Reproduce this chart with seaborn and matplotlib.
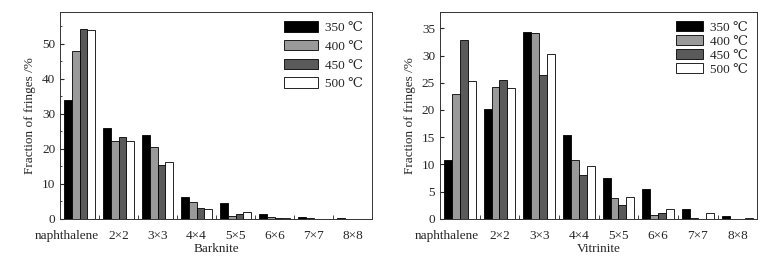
import seaborn as sns
import matplotlib.pyplot as plt
import matplotlib.transforms as mtransforms
import numpy as np
import pandas as pd
from matplotlib.ticker import MultipleLocator, FixedLocator

sns.set_style("ticks")
plt.rcParams['font.family'] = ['Liberation Serif', 'DejaVu Serif', 'Noto Sans CJK SC']
plt.rcParams['xtick.direction'] = 'in'
plt.rcParams['ytick.direction'] = 'in'

# 数据
sizes = ['naphthalene', '2×2', '3×3', '4×4', '5×5', '6×6', '7×7', '8×8']
temps = ['350 ℃', '400 ℃', '450 ℃', '500 ℃']
colors = ['#000000', '#9a9a9a', '#5a5a5a', '#ffffff']

barknite_350 = [33.8, 25.9, 23.9, 6.2, 4.4, 1.3, 0.6, 0.3]
barknite_400 = [48.0, 22.2, 20.5, 4.8, 0.8, 0.6, 0.2, 0.0]
barknite_450 = [54.2, 23.4, 15.3, 3.1, 1.5, 0.3, 0.0, 0.0]
barknite_500 = [53.9, 22.2, 16.2, 2.9, 1.9, 0.4, 0.0, 0.0]

vitrinite_350 = [10.8, 20.2, 34.4, 15.5, 7.5, 5.5, 1.9, 0.6]
vitrinite_400 = [22.9, 24.2, 34.1, 10.9, 3.8, 0.7, 0.2, 0.0]
vitrinite_450 = [32.9, 25.5, 26.4, 8.1, 2.6, 1.0, 0.0, 0.0]
vitrinite_500 = [25.4, 24.0, 30.3, 9.7, 4.1, 1.8, 1.0, 0.15]


def make_df(series):
    rows = []
    for t, vals in zip(temps, series):
        for s, v in zip(sizes, vals):
            rows.append({'size': s, 'temp': t, 'value': v})
    return pd.DataFrame(rows)


df_b = make_df([barknite_350, barknite_400, barknite_450, barknite_500])
df_v = make_df([vitrinite_350, vitrinite_400, vitrinite_450, vitrinite_500])

fig = plt.figure(figsize=(7.8, 2.6), dpi=100)
ax1 = fig.add_axes([0.077, 0.158, 0.400, 0.796])
ax2 = fig.add_axes([0.564, 0.158, 0.407, 0.796])

panels = [
    (ax1, df_b, 'Barknite', 59, 10, 5, 0.45, 2.6, 0.85),
    (ax2, df_v, 'Vitrinite', 38, 5, None, 0.12, 2.1, 0.75),
]

for ax, df, name, ymax, major, minor, lspace, hlen, hht in panels:
    sns.barplot(x='size', y='value', hue='temp', data=df, ax=ax,
                palette=colors, edgecolor='black', linewidth=0.6,
                width=0.8, order=sizes, hue_order=temps)
    ax.set_xlim(-0.5, 7.5)
    ax.set_ylim(0, ymax)
    ax.yaxis.set_major_locator(MultipleLocator(major))
    if minor:
        ax.yaxis.set_minor_locator(MultipleLocator(minor))
    ax.tick_params(axis='x', length=0, labelsize=9.5, pad=8)
    ax.tick_params(axis='y', which='major', length=3, labelsize=9.5)
    ax.tick_params(axis='y', which='minor', length=1.5)
    ax.xaxis.set_minor_locator(FixedLocator(np.arange(0.5, 7.5, 1)))
    ax.tick_params(axis='x', which='minor', length=3)
    # naphthalene 标签稍向左移
    lab = ax.get_xticklabels()[0]
    lab.set_transform(lab.get_transform() +
                      mtransforms.ScaledTranslation(-9 / 72, 0, fig.dpi_scale_trans))
    ax.set_xlabel(name, fontsize=9.5, labelpad=1)
    ax.set_ylabel('Fraction of fringes /%', fontsize=9.5, labelpad=4)
    for sp in ax.spines.values():
        sp.set_linewidth(0.7)
        sp.set_color('#333333')
    ax.legend(loc='upper right', frameon=False, fontsize=9.5,
              handlelength=hlen, handleheight=hht, labelspacing=lspace,
              handletextpad=0.5, borderaxespad=0.3)

plt.savefig('out.png', dpi=100)
